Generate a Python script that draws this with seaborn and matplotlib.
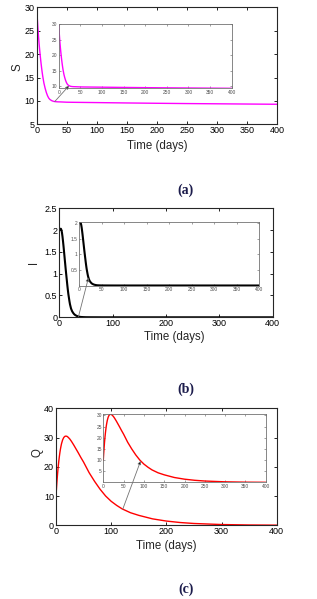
import numpy as np
import pandas as pd
import matplotlib
matplotlib.use("Agg")
import matplotlib.pyplot as plt
import seaborn as sns

# ---------------- data ----------------
t_S = [0, 1, 2, 3, 4, 5, 6, 7, 8, 9, 10, 12, 14, 16, 18, 20, 22, 25, 28, 31, 35, 40,
       50, 60, 80, 100, 150, 200, 250, 300, 350, 400]
S = [30, 27.6, 25.6, 23.8, 22.2, 20.8, 19.5, 18.3, 17.2, 16.2, 15.3, 13.8, 12.7, 11.8,
     11.1, 10.6, 10.3, 10.05, 9.9, 9.84, 9.8, 9.78, 9.72, 9.7, 9.67, 9.64, 9.56, 9.49,
     9.43, 9.38, 9.33, 9.28]

t_I = [0, 1, 2, 3, 4, 5, 6, 7, 8, 9, 10, 11, 12, 13, 14, 15, 16, 17, 18, 19, 20, 22,
       24, 26, 28, 30, 33, 36, 40, 45, 50, 60, 80, 100, 150, 200, 300, 400]
I = [2.0, 2.02, 2.03, 2.03, 2.0, 1.94, 1.85, 1.74, 1.62, 1.49, 1.36, 1.23, 1.1, 0.98,
     0.86, 0.74, 0.63, 0.53, 0.45, 0.37, 0.3, 0.2, 0.14, 0.1, 0.07, 0.05, 0.03,
     0.018, 0.008, 0.004, 0.002, 0.001, 0.0, 0.0, 0.0, 0.0, 0.0, 0.0]

t_Q = [0, 1, 2, 3, 4, 5, 6, 7, 8, 9, 10, 12, 14, 16, 18, 20, 22, 25, 28, 32, 36, 40,
       45, 50, 60, 70, 80, 90, 100, 110, 120, 135, 150, 175, 200, 225, 250, 300, 350, 400]
Q = [10, 13, 15.6, 18, 20, 21.8, 23.4, 24.8, 26, 27, 27.9, 29.2, 30, 30.4, 30.5, 30.4,
     30.1, 29.5, 28.7, 27.5, 26.2, 24.9, 23.2, 21.6, 18.0, 15.0, 12.3, 10.0, 8.2, 6.8,
     5.6, 4.3, 3.4, 2.2, 1.45, 0.95, 0.62, 0.26, 0.11, 0.05]

x_label = "Time (days)"
y_labels = ["S", "I", "Q"]
panel_tags = ["(a)", "(b)", "(c)"]
main_yticks = [[5, 10, 15, 20, 25, 30], [0, 0.5, 1, 1.5, 2, 2.5], [0, 10, 20, 30, 40]]
main_xticks = [list(range(0, 401, 50)), list(range(0, 401, 100)), list(range(0, 401, 100))]
inset_yticks = [[10, 15, 20, 25, 30], [0.5, 1, 1.5, 2], [5, 10, 15, 20, 25, 30]]
inset_xticks = list(range(0, 401, 50))
arrow_main_t = [30, 36, 121]
arrow_inset_t = [24, 21, 92]

# ---------------- style ----------------
sns.set_style("ticks")
plt.rcParams.update({
    "xtick.direction": "in", "ytick.direction": "in",
    "xtick.top": True, "ytick.right": True,
    "axes.linewidth": 0.8,
})
plt.rcParams["font.family"] = ["Liberation Sans", "DejaVu Sans"]

W, H = 317, 599
fig = plt.figure(figsize=(W / 100, H / 100), dpi=100)


def box(l, t, r, b):
    return [l / W, 1 - b / H, (r - l) / W, (b - t) / H]


layout = [
    dict(main=box(36.7, 7.3, 277.3, 124.3), inset=box(58.7, 24, 231.7, 88.3),
         ylim=(5, 30), ylab=(-0.079, 0.49), xlab=(0.5, -0.185), tag=(186, 190)),
    dict(main=box(59.3, 208.3, 272.7, 317.3), inset=box(79, 222.3, 259.3, 285.5),
         ylim=(0, 2.5), ylab=(-0.118, 0.5), xlab=(0.537, -0.18), tag=(186, 389)),
    dict(main=box(56, 408.3, 276.7, 525.3), inset=box(103.3, 414.3, 265.7, 482.3),
         ylim=(0, 40), ylab=(-0.082, 0.62), xlab=(0.5, -0.177), tag=(186, 589)),
]

series = [(t_S, S, "#ff00ff", 1.0), (t_I, I, "black", 1.5), (t_Q, Q, "red", 1.0)]

for k, (tt, yy, col, lw) in enumerate(series):
    df = pd.DataFrame({"t": tt, "v": yy})
    L = layout[k]

    ax = fig.add_axes(L["main"])
    sns.lineplot(data=df, x="t", y="v", ax=ax, color=col, lw=lw,
                 estimator=None, sort=False)
    ax.set_xlim(0, 400)
    ax.set_ylim(*L["ylim"])
    ax.set_xticks(main_xticks[k])
    ax.set_yticks(main_yticks[k])
    ax.set_yticklabels([f"{v:g}" for v in main_yticks[k]])
    ax.tick_params(labelsize=6.5, length=2.5, width=0.6, pad=1.5, colors="black")
    for sp in ax.spines.values():
        sp.set_color("0.15")
        sp.set_linewidth(0.8)
    ax.set_xlabel(x_label, fontsize=8.3)
    ax.set_ylabel(y_labels[k], fontsize=8.3)
    ax.xaxis.set_label_coords(*L["xlab"])
    ax.xaxis.label.set_va("center")
    ax.yaxis.set_label_coords(*L["ylab"])
    ax.yaxis.label.set_va("center")

    ins = fig.add_axes(L["inset"])
    sns.lineplot(data=df, x="t", y="v", ax=ins, color=col, lw=lw,
                 estimator=None, sort=False)
    ins.set_xlim(0, 400)
    ins.set_ylim(min(yy), max(yy))
    ins.set_xticks(inset_xticks)
    ins.set_yticks(inset_yticks[k])
    ins.set_yticklabels([f"{v:g}" for v in inset_yticks[k]])
    ins.tick_params(labelsize=3.5, length=1.5, width=0.4, pad=1.0,
                    colors="0.35", labelcolor="0.3")
    ins.set_xlabel("")
    ins.set_ylabel("")
    for sp in ins.spines.values():
        sp.set_color("0.45")
        sp.set_linewidth(0.6)

    tm, ti = arrow_main_t[k], arrow_inset_t[k]
    ins.annotate("", xy=(ti, np.interp(ti, tt, yy)), xycoords=ins.transData,
                 xytext=(tm, np.interp(tm, tt, yy)), textcoords=ax.transData,
                 arrowprops=dict(arrowstyle="-|>", ec="0.45", fc="black", lw=0.6,
                                 mutation_scale=5, shrinkA=0, shrinkB=0),
                 annotation_clip=False)

    fig.text(L["tag"][0] / W, 1 - L["tag"][1] / H, panel_tags[k],
             family=["Liberation Serif", "DejaVu Serif"], fontweight="bold",
             fontsize=10, color="#1c1c4c", ha="center", va="center")

fig.savefig("out.png", dpi=100)
